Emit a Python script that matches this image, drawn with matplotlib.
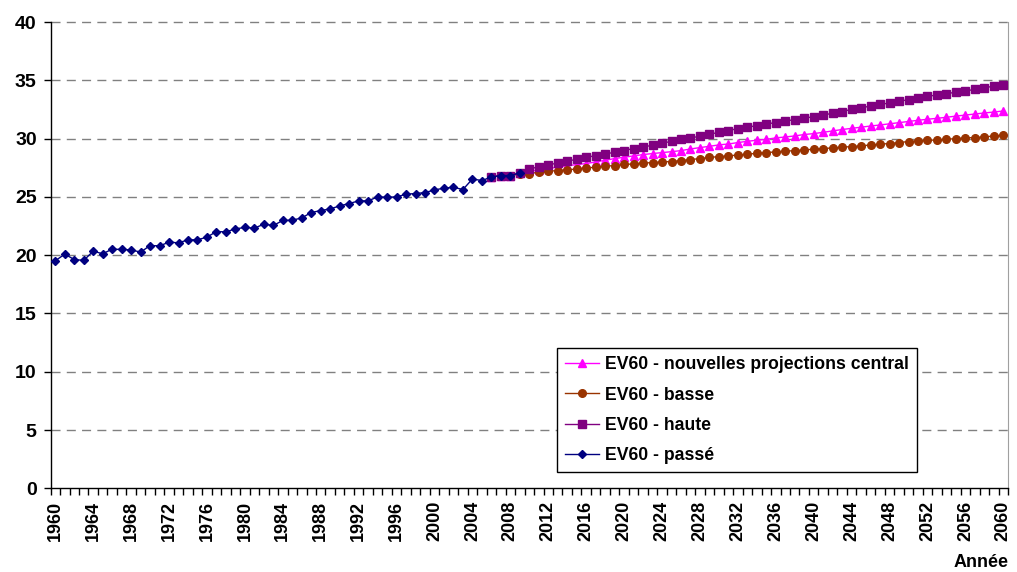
import matplotlib

matplotlib.use("Agg", force=True)
import matplotlib.pyplot as plt

plt.rcParams["font.family"] = ["Liberation Sans", "DejaVu Sans"]
plt.rcParams["font.weight"] = "bold"

# EV60 history (1960-2009)
past_years = list(range(1960, 2010))
past = [19.52, 20.09, 19.63, 19.55, 20.35, 20.12, 20.52, 20.49, 20.46, 20.26,
        20.83, 20.80, 21.12, 21.06, 21.32, 21.32, 21.55, 22.03, 22.00, 22.26,
        22.38, 22.32, 22.66, 22.55, 22.98, 23.00, 23.20, 23.66, 23.83, 23.97,
        24.23, 24.43, 24.66, 24.66, 25.00, 24.97, 25.00, 25.23, 25.29, 25.37,
        25.60, 25.75, 25.83, 25.63, 26.54, 26.40, 26.71, 26.83, 26.83, 27.06]

# projections (2006-2060)
proj_years = list(range(2006, 2061))
central = [26.71, 26.83, 26.83, 27.06,
           27.20, 27.32, 27.44, 27.56, 27.67, 27.77, 27.86, 28.00, 28.14, 28.29,
           28.40, 28.52, 28.63, 28.72, 28.80,
           28.88, 28.97, 29.11, 29.23, 29.34, 29.46, 29.54, 29.66, 29.77, 29.86,
           29.94, 30.06, 30.14, 30.23, 30.35, 30.43, 30.54, 30.66,
           30.78, 30.88, 30.98, 31.08, 31.17, 31.27, 31.37, 31.47, 31.57, 31.66,
           31.74, 31.83, 31.93, 32.02, 32.11, 32.20, 32.28, 32.37]
basse = [26.71, 26.83, 26.83, 26.95,
         27.00, 27.12, 27.20, 27.26, 27.31, 27.40, 27.49, 27.54, 27.63, 27.69,
         27.78, 27.83, 27.89, 27.95, 28.00,
         28.03, 28.12, 28.20, 28.29, 28.38, 28.46, 28.51, 28.60, 28.66, 28.74,
         28.80, 28.86, 28.92, 28.97, 29.03, 29.09, 29.15, 29.20,
         29.26, 29.32, 29.37, 29.46, 29.52, 29.58, 29.66, 29.75, 29.80, 29.86,
         29.88, 29.94, 30.00, 30.06, 30.09, 30.14, 30.23, 30.29]
haute = [26.71, 26.83, 26.83, 27.06,
         27.37, 27.60, 27.74, 27.91, 28.06, 28.23, 28.38, 28.55, 28.68, 28.83,
         28.98, 29.15, 29.28, 29.43, 29.60,
         29.77, 29.94, 30.06, 30.20, 30.37, 30.54, 30.69, 30.86, 30.97, 31.12,
         31.26, 31.37, 31.51, 31.63, 31.74, 31.89, 32.03, 32.17,
         32.32, 32.51, 32.63, 32.80, 32.94, 33.05, 33.20, 33.34, 33.46, 33.63,
         33.74, 33.83, 34.00, 34.08, 34.23, 34.37, 34.49, 34.60]

tick_years = list(range(1960, 2061, 4))
y_ticks = list(range(0, 41, 5))

fig = plt.figure(figsize=(10.17, 5.72), dpi=100)
ax = fig.add_axes([0.0497, 0.1462, 0.9415, 0.8153])

for v in y_ticks[1:]:
    ax.axhline(v, color="#808080", lw=1.0, dashes=(6.5, 4.5), zorder=1, clip_on=False)

ax.plot(proj_years, central, color="#FF00FF", lw=1.0, marker="^", ms=6,
        mec="#FF00FF", mfc="#FF00FF", label="EV60 - nouvelles projections central", zorder=3)
ax.plot(proj_years, basse, color="#993300", lw=1.0, marker="o", ms=5.5,
        mec="#993300", mfc="#993300", label="EV60 - basse", zorder=4)
ax.plot(proj_years, haute, color="#800080", lw=1.0, marker="s", ms=5.5,
        mec="#800080", mfc="#800080", label="EV60 - haute", zorder=5)
ax.plot(past_years, past, color="#000080", lw=1.0, marker="D", ms=4.5,
        mec="#000080", mfc="#000080", label="EV60 - passé", zorder=6)

ax.set_xlim(1959.5, 2060.5)
ax.set_ylim(0, 40)

# category axis: tick marks between years, labels every 4 years
ax.set_xticks(tick_years)
ax.set_xticklabels([str(y) for y in tick_years], rotation=90, fontsize=13, fontweight="bold")
ax.set_xticks([1959.5 + k for k in range(102)], minor=True)
ax.tick_params(axis="x", which="major", length=0, pad=9)
ax.tick_params(axis="x", which="minor", length=5, width=1, direction="out")
ax.set_yticks(y_ticks)
ax.set_yticklabels([str(v) for v in y_ticks], fontsize=14, fontweight="bold")
ax.tick_params(axis="y", length=5, width=1, direction="out", pad=5)

ax.spines["top"].set_visible(False)
ax.spines["right"].set_color("#a0a0a0")
for side in ("left", "bottom"):
    ax.spines[side].set_color("black")
    ax.spines[side].set_linewidth(1.0)

ax.text(1.0, -0.158, "Année", transform=ax.transAxes, ha="right", va="center",
        fontsize=13, fontweight="bold")

leg = ax.legend(loc="lower left", bbox_to_anchor=(0.529, 0.035), borderaxespad=0,
                fontsize=12.7, handlelength=1.95, labelspacing=0.75, fancybox=False,
                framealpha=1, edgecolor="black", borderpad=0.45, handletextpad=0.3)
leg.get_frame().set_linewidth(1.0)
for t in leg.get_texts():
    t.set_fontweight("bold")

fig.savefig("out.png", dpi=100)
plt.close(fig)
